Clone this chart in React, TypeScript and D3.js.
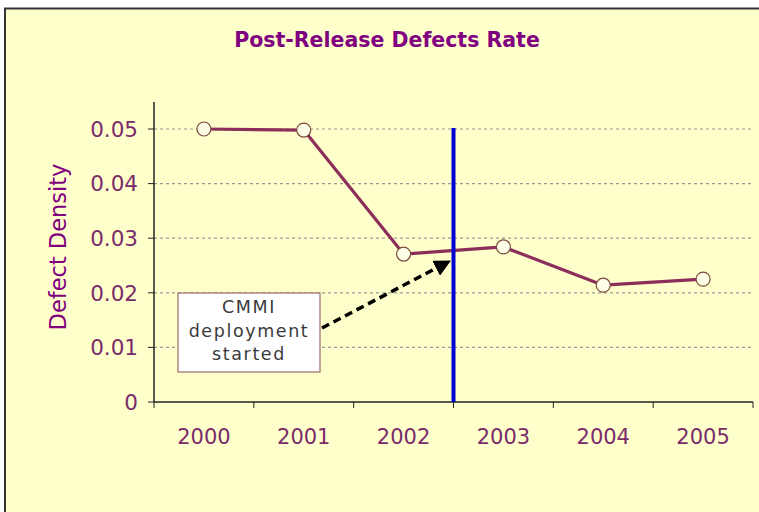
import React from "react";
import * as d3 from "d3";

const years = ["2000", "2001", "2002", "2003", "2004", "2005"];
const defectDensity = [0.05, 0.0498, 0.0271, 0.0284, 0.0214, 0.0225];
const yTicks = [0, 0.01, 0.02, 0.03, 0.04, 0.05];
const yTickLabels = ["0", "0.01", "0.02", "0.03", "0.04", "0.05"];
const annotationLines = ["CMMI", "deployment", "started"];
const deploymentBoundary = ["2002", "2003"];

const W = 759;
const H = 512;
const M = { left: 154, right: 753, top: 129, bottom: 402 };
const FONT = "'DejaVu Sans', Verdana, sans-serif";

export default function App() {
  const x = d3.scaleBand<string>().domain(years).range([M.left, M.right]).paddingInner(0).paddingOuter(0);
  const y = d3.scaleLinear().domain([0, 0.05]).range([M.bottom, M.top]);
  const cx = (yr: string) => (x(yr) as number) + x.bandwidth() / 2;
  const line = d3
    .line<number>()
    .x((_, i) => cx(years[i]))
    .y((d) => y(d));
  const pts = defectDensity.map((v, i) => ({ x: cx(years[i]), y: y(v) }));
  const boundaryX = (x(deploymentBoundary[1]) as number);

  const boxX = 178, boxY = 293, boxW = 142, boxH = 79;
  const arrowStart: [number, number] = [boxX + boxW + 2, 328];
  const arrowEnd: [number, number] = [448, 262];

  return (
    <svg width={W} height={H} style={{ position: "absolute", left: 0, top: 0, display: "block" }}>
      <rect x={0} y={0} width={W} height={H} fill="#ffffff" />
      <rect x={5} y={8.5} width={W + 10} height={H} fill="#FFFFCC" stroke="#333" strokeWidth={2} />
      <text x={387} y={47} textAnchor="middle" fontFamily={FONT} fontWeight="bold" fontSize={20.5} fill="#800080">
        Post-Release Defects Rate
      </text>
      {yTicks.slice(1).map((t) => (
        <line key={t} x1={M.left} x2={M.right} y1={y(t)} y2={y(t)} stroke="#999" strokeWidth={1.2} strokeDasharray="3,3" />
      ))}
      {yTicks.map((t, i) => (
        <g key={"yt" + t}>
          <line x1={M.left - 6} x2={M.left} y1={y(t)} y2={y(t)} stroke="#222" />
          <text x={M.left - 16} y={y(t)} dy="0.36em" textAnchor="end" fontFamily={FONT} fontSize={21.5} fill="#7A2C6A">
            {yTickLabels[i]}
          </text>
        </g>
      ))}
      <line x1={M.left} x2={M.left} y1={102} y2={M.bottom} stroke="#222" strokeWidth={1.5} />
      <line x1={M.left} x2={M.right} y1={M.bottom} y2={M.bottom} stroke="#222" strokeWidth={1.5} />
      {years.concat(["end"]).map((yr, i) => {
        const xx = M.left + i * x.bandwidth();
        return <line key={"xt" + i} x1={xx} x2={xx} y1={M.bottom} y2={M.bottom + 6} stroke="#222" />;
      })}
      {years.map((yr) => (
        <text key={yr} x={cx(yr)} y={444} textAnchor="middle" fontFamily={FONT} fontSize={21} fill="#7A2C6A">
          {yr}
        </text>
      ))}
      <text transform={`translate(66,${247}) rotate(-90)`} textAnchor="middle" fontFamily={FONT} fontSize={22.5} fill="#800080">
        Defect Density
      </text>
      <path d={line(defectDensity) || ""} fill="none" stroke="#8B2E5A" strokeWidth={3.2} strokeLinejoin="round" />
      {pts.map((p, i) => (
        <circle key={i} cx={p.x} cy={p.y} r={7} fill="#FFFFE8" stroke="#7A4A3A" strokeWidth={1.2} />
      ))}
      <line x1={boundaryX} x2={boundaryX} y1={128} y2={M.bottom} stroke="#0000D0" strokeWidth={4} />
      <rect x={boxX} y={boxY} width={boxW} height={boxH} fill="#ffffff" stroke="#9A6A6A" strokeWidth={1.2} />
      {annotationLines.map((t, i) => (
        <text key={t} x={boxX + boxW / 2} y={boxY + 20 + i * 23.5} textAnchor="middle" fontFamily={FONT} fontSize={17.5} fill="#3a3a3a" letterSpacing={1.6}>
          {t}
        </text>
      ))}
      <defs>
        <marker id="arr" viewBox="0 0 10 10" refX={8} refY={5} markerWidth={4.8} markerHeight={4.8} orient="auto">
          <path d="M0,0 L10,5 L0,10 Z" fill="#000" />
        </marker>
      </defs>
      <line x1={arrowStart[0]} y1={arrowStart[1]} x2={arrowEnd[0]} y2={arrowEnd[1]} stroke="#000" strokeWidth={3.5} strokeDasharray="8,5" markerEnd="url(#arr)" />
    </svg>
  );
}
